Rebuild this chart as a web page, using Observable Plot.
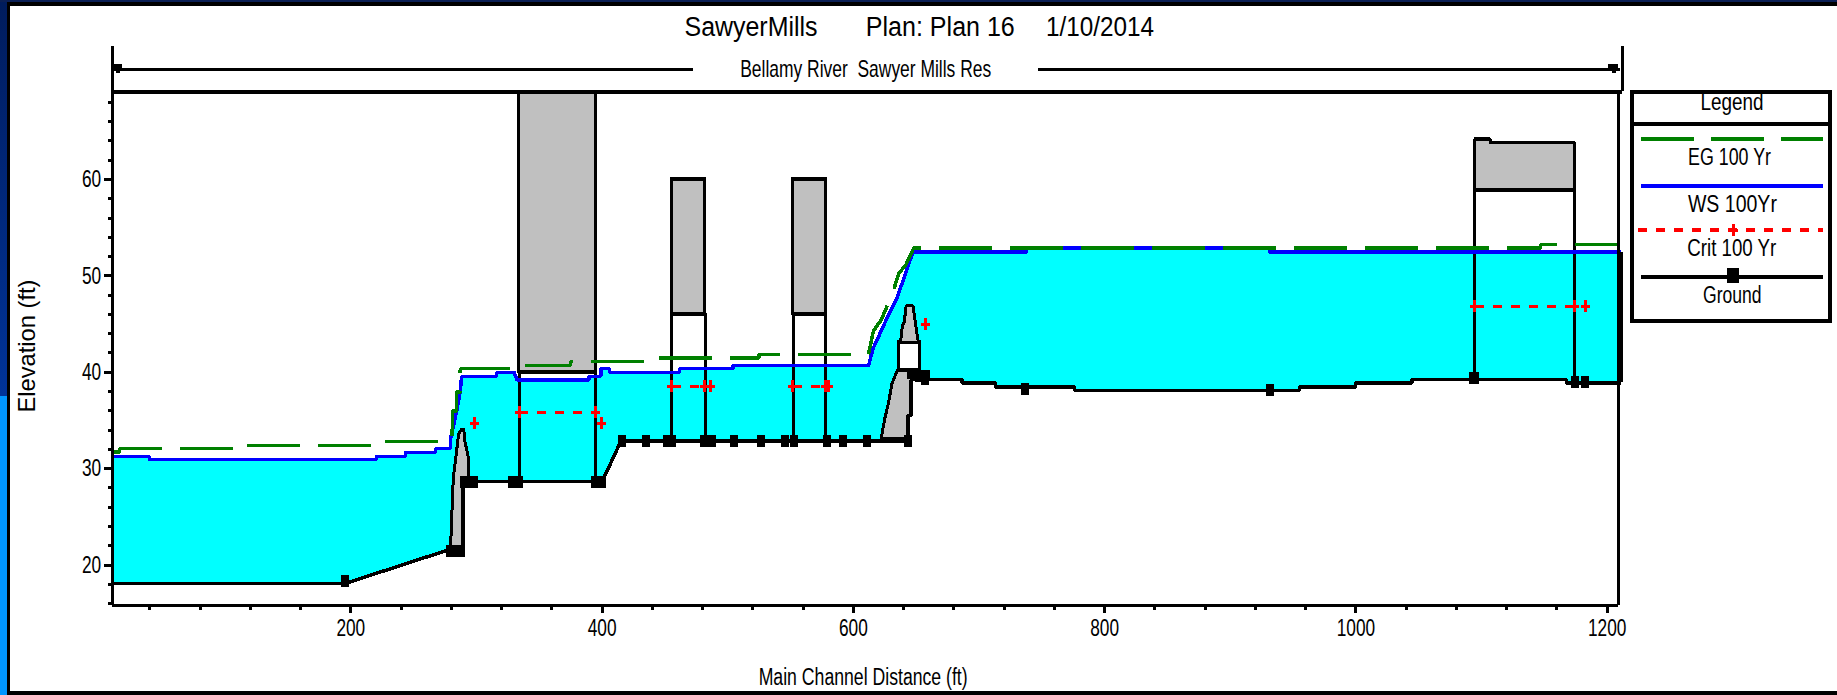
<!DOCTYPE html>
<html><head><meta charset="utf-8">
<script src="https://cdn.jsdelivr.net/npm/d3@7"></script>
<script src="https://cdn.jsdelivr.net/npm/@observablehq/plot@0.6"></script>
<style>
html,body{margin:0;padding:0;width:1837px;height:695px;overflow:hidden;background:#fff}
#strip{position:absolute;left:0;top:0;width:7px;height:695px;background:linear-gradient(to bottom,#001c5c 0,#003399 396px,#0096ff 396px,#0096ff 695px)}
#topn{position:absolute;left:0;top:0;width:1837px;height:2px;background:#0a1f55}
#frameT{position:absolute;left:7px;top:2px;width:1830px;height:4px;background:#000}
#frameL{position:absolute;left:7px;top:2px;width:3px;height:693px;background:#000}
#frameB{position:absolute;left:7px;top:691px;width:1830px;height:4px;background:#000}
#chart{position:absolute;left:0;top:0}
#chart svg{background:transparent;display:block}
.lb{position:absolute;white-space:pre;font-family:"Liberation Sans",sans-serif;color:#000;line-height:1;transform-origin:center}
#legend{position:absolute;left:0;top:0;pointer-events:none}
</style></head>
<body>
<div id="strip"></div><div id="topn"></div><div id="frameT"></div><div id="frameL"></div><div id="frameB"></div>
<div id="chart"></div>
<script>
// ---- scales & ticks
const xDomain = [10, 1209];
const yDomain = [15.8, 69.13];
const xTicks = [200, 400, 600, 800, 1000, 1200];
const xMinor = [40, 80, 120, 160, 240, 280, 320, 360, 440, 480, 520, 560, 640, 680, 720, 760, 840, 880, 920, 960, 1040, 1080, 1120, 1160];
const yTicks = [20, 30, 40, 50, 60];
const yMinor = [16, 18, 22, 24, 26, 28, 32, 34, 36, 38, 42, 44, 46, 48, 52, 54, 56, 58, 62, 64, 66, 68];

// ---- profile series: [main channel distance (ft), elevation (ft)]
const ground = [[10,18.06],[195,18.06],[276,21.5],[289.3,21.5],[289.3,28.64],[400,28.64],[415,32.86],[643.5,32.86],[643.5,35.5],[646,35.5],[646,39.23],[686.5,39.23],[686.5,38.88],[713.2,38.88],[713.2,38.46],[776,38.46],[776,38.12],[955,38.12],[955,38.46],[999.8,38.46],[999.8,38.88],[1044.5,38.88],[1044.5,39.23],[1167.7,39.23],[1167.7,38.88],[1211,38.88]];
const ws100 = [[10,31.27],[39.7,31.27],[39.7,30.93],[220.3,30.93],[220.3,31.27],[243.4,31.27],[243.4,31.7],[267.3,31.7],[267.3,32.07],[279.3,32.07],[279.3,33.1],[281.8,34.5],[284.3,36],[287.1,38],[288.2,39.57],[316,39.57],[316,40],[330,40],[332.3,39.2],[389.5,39.2],[389.5,39.57],[399,39.57],[399,40.37],[405.8,40.37],[405.8,40],[461.6,40],[461.6,40.37],[504,40.37],[504,40.71],[612.2,40.71],[615.5,42.4],[626,45.4],[635,47.8],[644,51.2],[647.5,52.47],[738,52.47],[738,52.89],[931.3,52.89],[931.3,52.47],[1211,52.47]];
const eg100 = [[10,31.72],[16,31.72],[16,32.07],[107,32.07],[107,32.41],[220.3,32.41],[220.3,32.83],[280,32.83],[281,34.5],[281,36],[284.3,36],[284.3,37.95],[287.1,37.95],[287.1,40.2],[288.2,40.37],[328,40.37],[328,40.71],[375,40.71],[375,41.13],[441,41.13],[441,41.5],[525,41.5],[525,41.85],[612,41.85],[616,44.3],[622,45.4],[631,48.1],[636,50.2],[642,51.2],[648,52.89],[1147,52.89],[1147,53.23],[1209,53.23]];
const critSegments = [
  [[333.9,35.87],[395,35.87]],
  [[455.5,38.54],[486.5,38.54]],
  [[551.9,38.54],[580.5,38.54]],
  [[1094.7,46.84],[1183,46.84]]
];
const critPoints = [[298.6,34.73],[333.9,35.87],[395,35.87],[399.8,34.73],[455.5,38.54],[481.7,38.54],[486.5,38.54],[551.9,38.54],[578.1,38.54],[580.5,38.54],[657.8,44.97],[1094.7,46.84],[1174.3,46.84],[1183,46.84]];
const groundStations = [[195,18.3],[279,21.5],[284,21.5],[287.5,21.5],[290,28.64],[295,28.64],[298,28.64],[328,28.64],[334,28.64],[394,28.64],[400,28.64],[416,32.86],[434.8,32.86],[452,32.86],[455.5,32.86],[480.9,32.86],[487.1,32.86],[504.7,32.86],[526.3,32.86],[545.4,32.86],[552.5,32.86],[579.2,32.86],[592,32.86],[610.8,32.86],[643.5,32.86],[652,39.6],[657,39.3],[737,38.3],[931.4,38.12],[1093.3,39.4],[1095,39.4],[1174,39],[1182.6,39]];

// ---- structures: decks [x1, x2, low chord, top]
const decks = [[333.9,395,40,69.13],[455.6,482.2,46.07,60],[552.2,578.2,46.07,60]];
const piers = [[333.9,28.64,40],[395,28.64,40],[455.6,32.86,46.07],[482.2,32.86,46.07],[552.2,32.86,46.07],[578.2,32.86,46.07],[1094.7,39.3,64.2],[1174.3,39,63.8]];
const upperDeck = [[1094.7,58.87],[1094.7,64.2],[1107,64.2],[1107,63.8],[1174.3,63.8],[1174.3,58.87],[1094.7,58.87]];
const pierWest = [[279.3,21.5],[281.6,29.1],[283.8,31.4],[285.8,33.6],[288,34.07],[290,34.07],[290.4,33.1],[293.8,31],[293.8,28.9],[289.3,28.9],[289.3,21.5],[279.3,21.5]];
const lateralLower = [[622.1,33.1],[625,35.2],[627.8,36.7],[630.7,38.8],[635,40.2],[646.3,40.2],[646.3,35.5],[643.5,35.5],[643.5,33.1],[622.1,33.1]];
const lateralUpper = [[637.5,43.1],[639,44.8],[640.5,45.2],[642,46.9],[647.5,46.9],[649.3,45.2],[651.7,43.1],[637.5,43.1]];
const lateralOpening = [[636.5,653,40.2,43.1]];
const lateralFooting = [[642.9,661.4,39.23,40.2]];
// ---- reach banner above the frame
const reachLeft = [[10,71.4],[471.2,71.4]];
const reachRight = [[748.2,71.4],[1209,71.4]];
const reachEnds = [[14,71.6],[1205,71.6]];
const frameEdges = [10, 1212];
const reachTop = 73.8;

// ---- texts
const titleParts = [["SawyerMills",751.5,27,27,133],["Plan: Plan 16",940,27,27,149],["1/10/2014",1100,27,27,108],["Bellamy River  Sawyer Mills Res",866,69,24,251]];
const xLabel = "Main Channel Distance (ft)";
const yLabel = "Elevation (ft)";

const px = d => ({x: d[0], y: d[1]});
const tall = {draw(c){c.rect(-4,-6,8,12);}};
const plus = {draw(c){c.rect(-4.5,-1.5,9,3);c.rect(-1.5,-6,3,12);}};
const arrow = {draw(c){c.rect(-5,-4,10,5);c.rect(-1,0,4,5);}};
const common = {strokeLinecap:"butt", strokeLinejoin:"miter"};
const GREY = "#c0c0c0";

const chart = Plot.plot({
  width:1837, height:695,
  marginLeft:111.6, marginRight:219, marginTop:91, marginBottom:90,
  x:{domain:xDomain}, y:{domain:yDomain},
  style:{background:"transparent", shapeRendering:"crispEdges", color:"#000"},
  marks:[
    Plot.areaY(ws100.map(px),{x:"x",y1:yDomain[0],y2:"y",fill:"#00ffff"}),
    Plot.areaY(ground.map(px),{x:"x",y1:yDomain[0],y2:"y",fill:"#ffffff"}),
    // piers and decks
    Plot.ruleX(piers,{x:d=>d[0],y1:d=>d[1],y2:d=>d[2],stroke:"#000",strokeWidth:3}),
    Plot.rect(decks,{x1:d=>d[0],x2:d=>d[1],y1:d=>d[2],y2:d=>d[3],fill:GREY,stroke:"#000",strokeWidth:3}),
    Plot.ruleY(decks,{y:d=>d[2],x1:d=>d[0],x2:d=>d[1],stroke:"#000",strokeWidth:4}),
    Plot.ruleY(decks.slice(1),{y:d=>d[3],x1:d=>d[0],x2:d=>d[1],stroke:"#000",strokeWidth:4}),
    Plot.line(upperDeck.map(px),{x:"x",y:"y",fill:GREY,stroke:"#000",strokeWidth:3,...common}),
    Plot.ruleY([58.87],{x1:1094.7,x2:1174.3,stroke:"#000",strokeWidth:4}),
    Plot.ruleY([64.2],{x1:1094.7,x2:1107,stroke:"#000",strokeWidth:4}),
    Plot.line(pierWest.map(px),{x:"x",y:"y",fill:GREY,stroke:"#000",strokeWidth:3,...common}),
    Plot.line(lateralLower.map(px),{x:"x",y:"y",fill:GREY,stroke:"#000",strokeWidth:3,...common}),
    Plot.rect(lateralOpening,{x1:d=>d[0],x2:d=>d[1],y1:d=>d[2],y2:d=>d[3],fill:"#fff",stroke:"#000",strokeWidth:3}),
    Plot.line(lateralUpper.map(px),{x:"x",y:"y",fill:GREY,stroke:"#000",strokeWidth:3,...common}),
    Plot.rect(lateralFooting,{x1:d=>d[0],x2:d=>d[1],y1:d=>d[2],y2:d=>d[3],fill:"#000"}),
    // profiles
    Plot.line(ws100.map(px),{x:"x",y:"y",stroke:"#0000ff",strokeWidth:3.5,...common}),
    Plot.line(eg100.map(px),{x:"x",y:"y",stroke:"#008000",strokeWidth:3.5,strokeDasharray:"53,18",...common}),
    ...critSegments.map(s=>Plot.line(s.map(px),{x:"x",y:"y",stroke:"#ff0000",strokeWidth:3,strokeDasharray:"9,9",...common})),
    Plot.dot(critPoints.map(px),{x:"x",y:"y",fill:"#ff0000",symbol:plus}),
    Plot.line(ground.map(px),{x:"x",y:"y",stroke:"#000",strokeWidth:3.5,...common}),
    Plot.dot(groundStations.map(px),{x:"x",y:"y",fill:"#000",symbol:tall}),
    // frame
    Plot.ruleX([xDomain[0]],{y1:yDomain[0],y2:reachTop,stroke:"#000",strokeWidth:3}),
    Plot.ruleX([xDomain[1]],{y1:yDomain[0],y2:yDomain[1],stroke:"#000",strokeWidth:3}),
    Plot.ruleX([frameEdges[1]],{y1:yDomain[1],y2:reachTop,stroke:"#000",strokeWidth:3}),
    Plot.ruleX([1211.5],{y1:38.9,y2:52.47,stroke:"#000",strokeWidth:3}),
    Plot.ruleY([yDomain[0]],{x1:xDomain[0],x2:xDomain[1],stroke:"#000",strokeWidth:3}),
    Plot.ruleY([yDomain[1]],{x1:frameEdges[0],x2:frameEdges[1],stroke:"#000",strokeWidth:4}),
    // reach banner
    Plot.line(reachLeft.map(px),{x:"x",y:"y",stroke:"#000",strokeWidth:3}),
    Plot.line(reachRight.map(px),{x:"x",y:"y",stroke:"#000",strokeWidth:3}),
    Plot.dot(reachEnds.map(px),{x:"x",y:"y",fill:"#000",symbol:arrow}),
    // axes
    Plot.axisX({ticks:xMinor,tickSize:5,tickFormat:()=>"",strokeWidth:3,label:null}),
    Plot.axisX({ticks:xTicks,tickSize:8,tickPadding:5,strokeWidth:3,fontSize:24,fontFamily:"Liberation Sans",tickFormat:"d",label:null}),
    Plot.axisY({ticks:yMinor,tickSize:4,tickFormat:()=>"",strokeWidth:3,label:null}),
    Plot.axisY({ticks:yTicks,tickSize:8,tickPadding:3,strokeWidth:3,fontSize:24,fontFamily:"Liberation Sans",tickFormat:"d",label:null})
  ]
});
document.getElementById("chart").appendChild(chart);

// narrow pixel-font look for the tick labels
d3.select(chart).selectAll("text").each(function(){
  const n = this.getComputedTextLength();
  if(n>0){this.setAttribute("textLength",n*0.72);this.setAttribute("lengthAdjust","spacingAndGlyphs");}
});

function label(text,cx,cy,fs,w,rot){
  const el=document.createElement("div");
  el.className="lb";el.textContent=text;el.style.fontSize=fs+"px";
  document.body.appendChild(el);
  const nat=el.getBoundingClientRect().width;
  el.style.left=(cx-nat/2)+"px";
  el.style.top=(cy-fs/2)+"px";
  el.style.transform=(rot?"rotate(-90deg) ":"")+"scaleX("+(w/nat)+")";
}
titleParts.forEach(t=>label(t[0],t[1],t[2],t[3],t[4]));
label(xLabel,863.5,677,23,209);
label(yLabel,27,346,24,133,true);

// legend
const legendEntries = [
  {name:"EG 100 Yr",color:"#008000",dash:"53,17",y:139,ty:157,tx:1729,w:83,x1:1641,thick:4},
  {name:"WS 100Yr",color:"#0000ff",dash:null,y:186,ty:204,tx:1732,w:89,x1:1641,thick:4},
  {name:"Crit 100 Yr",color:"#ff0000",dash:"9,9",y:230,ty:248,tx:1732,w:89,x1:1638,thick:4},
  {name:"Ground",color:"#000",dash:null,y:277,ty:295,tx:1732,w:58.5,x1:1641,thick:4}
];
const lg=d3.select("body").append("svg").attr("id","legend").attr("width",1837).attr("height",695).style("shape-rendering","crispEdges");
lg.append("rect").attr("x",1632).attr("y",92).attr("width",198).attr("height",229).attr("fill","#fff").attr("stroke","#000").attr("stroke-width",3.5);
lg.append("line").attr("x1",1632).attr("x2",1830).attr("y1",123.5).attr("y2",123.5).attr("stroke","#000").attr("stroke-width",4);
legendEntries.forEach(e=>{
  lg.append("line").attr("x1",e.x1).attr("x2",1823).attr("y1",e.y).attr("y2",e.y).attr("stroke",e.color).attr("stroke-width",e.thick).attr("stroke-dasharray",e.dash);
});
lg.append("path").attr("d","M1729 230h9M1733.5 224v12").attr("stroke","#f00").attr("stroke-width",3);
lg.append("rect").attr("x",1727).attr("y",268).attr("width",12).attr("height",15).attr("fill","#000");
label("Legend",1732,102,24,63);
legendEntries.forEach(e=>label(e.name,e.tx,e.ty,23,e.w));
</script>
</body></html>
